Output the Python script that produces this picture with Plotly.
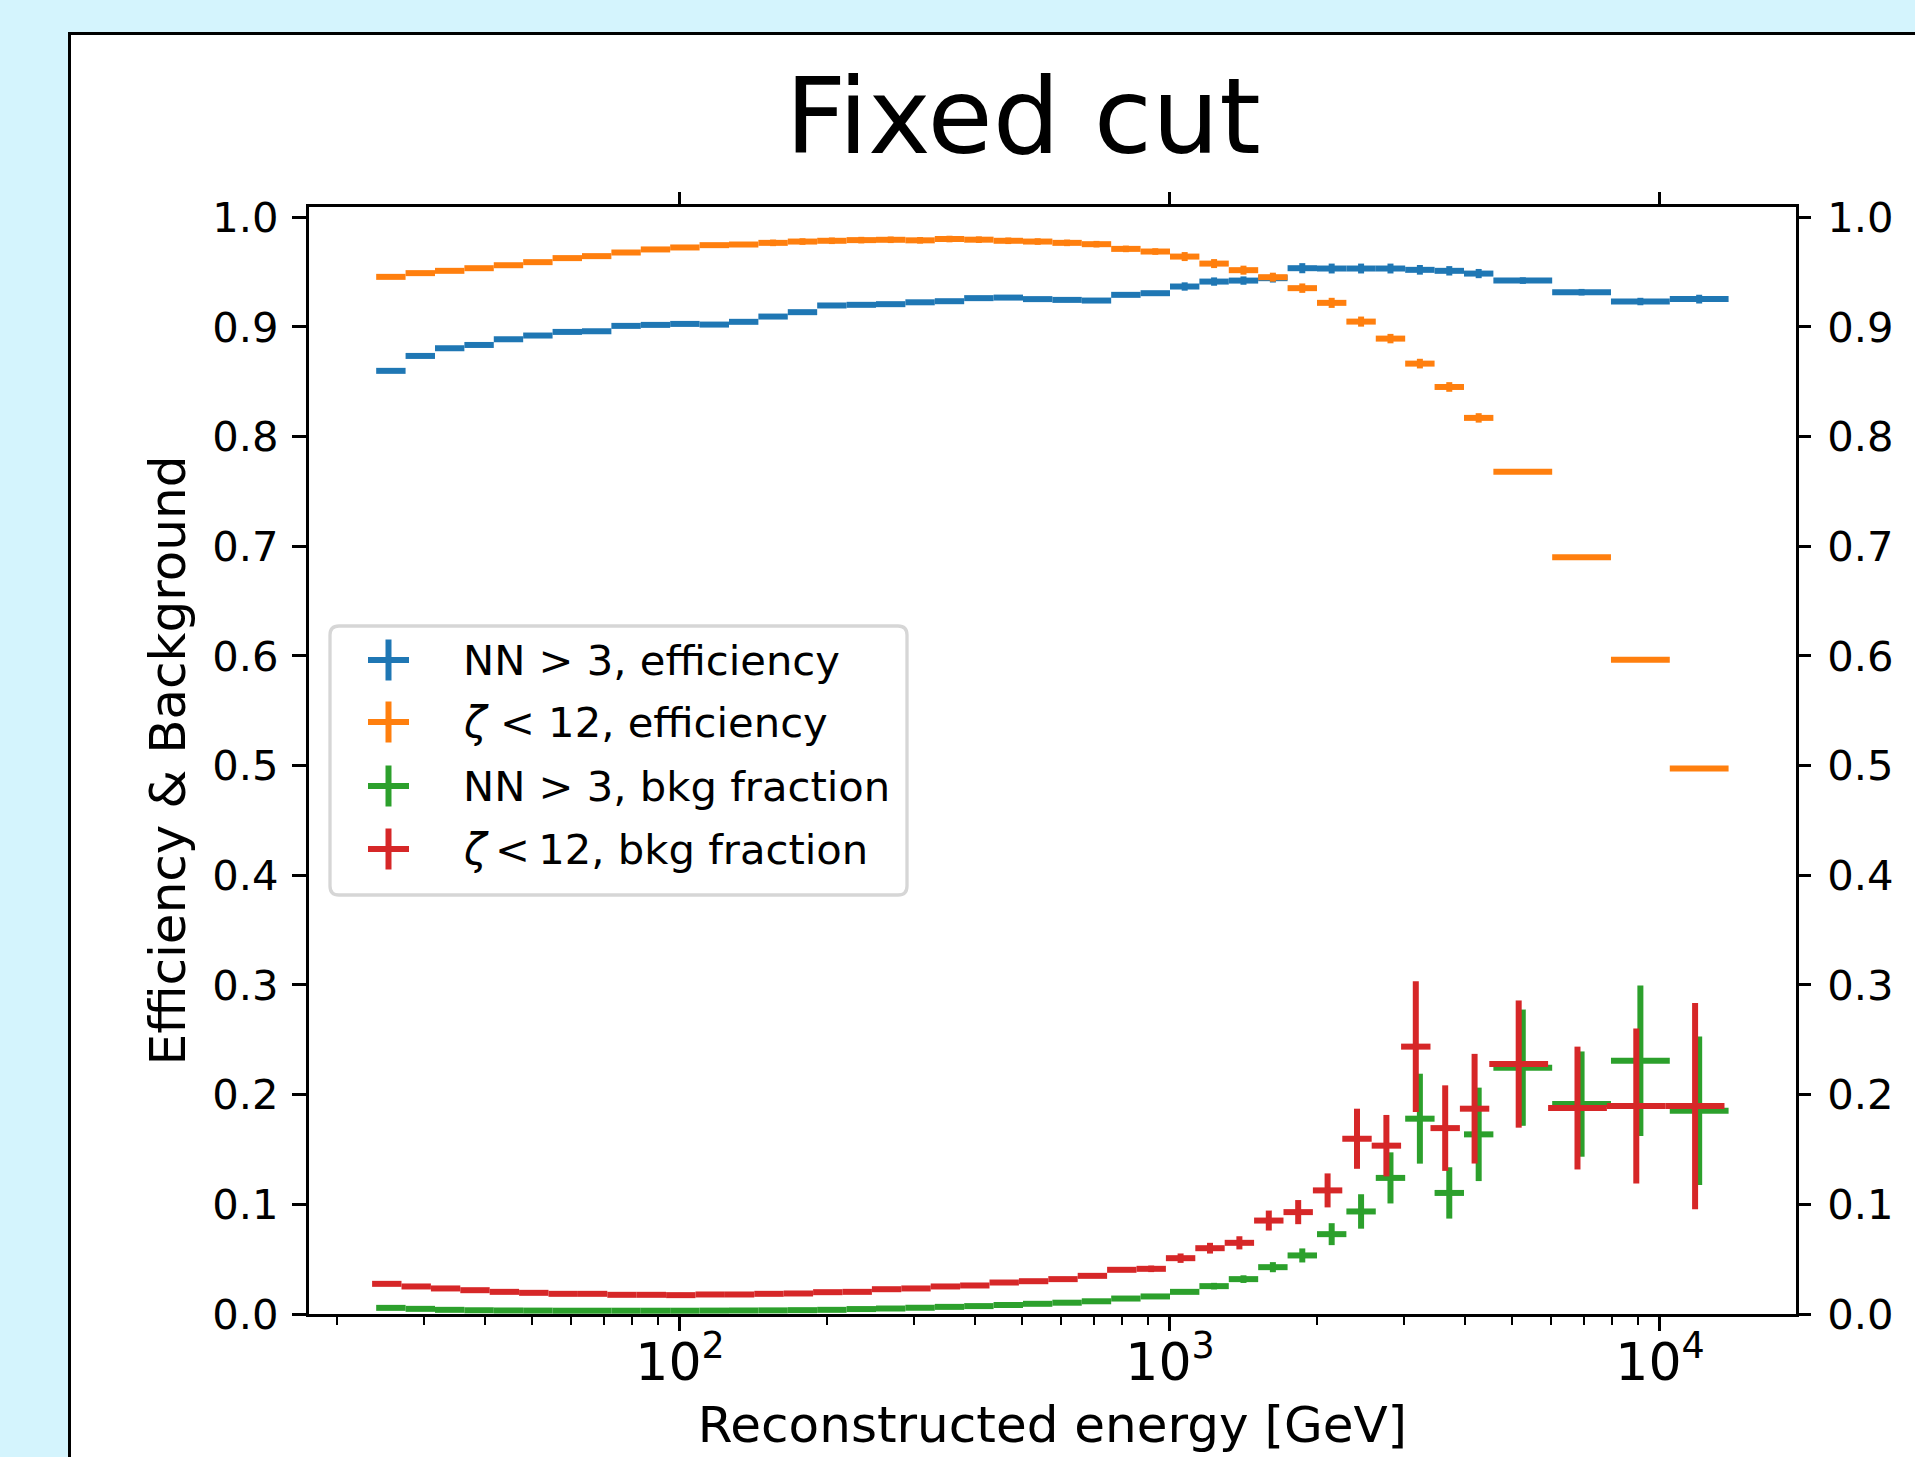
import plotly.graph_objects as go

# ---------------- data ----------------
# log10 of bin edges in GeV
edges_log10 = [1.38, 1.44, 1.50, 1.56, 1.62, 1.68, 1.74, 1.80, 1.86, 1.92, 1.98,
               2.04, 2.10, 2.16, 2.22, 2.28, 2.34, 2.40, 2.46, 2.52, 2.58, 2.64,
               2.70, 2.76, 2.82, 2.88, 2.94, 3.00, 3.06, 3.12, 3.18, 3.24, 3.30,
               3.36, 3.42, 3.48, 3.54, 3.60, 3.66, 3.78, 3.90, 4.02, 4.14]

nn_eff = [0.8600, 0.8736, 0.8806, 0.8836, 0.8888, 0.8922, 0.8955, 0.8961, 0.9010, 0.9019,
          0.9028, 0.9022, 0.9047, 0.9095, 0.9135, 0.9196, 0.9202, 0.9208, 0.9225, 0.9235,
          0.9263, 0.9268, 0.9254, 0.9247, 0.9241, 0.9293, 0.9308, 0.9369, 0.9414, 0.9423,
          0.9445, 0.9536, 0.9533, 0.9533, 0.9533, 0.9521, 0.9512, 0.9487, 0.9423, 0.9317,
          0.9232, 0.9254]
nn_eff_err = [0.0015] * 20 + [0.002] * 7 + [0.0038, 0.0038, 0.0038, 0.0040,
              0.0046, 0.0045, 0.0045, 0.0045, 0.0044, 0.0043, 0.0042,
              0.0030, 0.0030, 0.0034, 0.0040]

zeta_eff = [0.9457, 0.9491, 0.9512, 0.9536, 0.9563, 0.9591, 0.9628, 0.9646, 0.9679, 0.9707,
            0.9725, 0.9746, 0.9752, 0.9767, 0.9779, 0.9786, 0.9792, 0.9795, 0.9790, 0.9802,
            0.9796, 0.9786, 0.9779, 0.9767, 0.9755, 0.9712, 0.9688, 0.9642, 0.9578, 0.9518,
            0.9454, 0.9354, 0.9220, 0.9049, 0.8894, 0.8666, 0.8453, 0.8171, 0.7681, 0.6900,
            0.5965, 0.4974]
zeta_eff_err = [0.0015] * 9 + [0.002] * 4 + [0.003] * 14 + [0.0041, 0.0041, 0.0041, 0.0041,
                0.0043, 0.0046, 0.0046, 0.0043, 0.0044, 0.0044, 0.0043,
                0.0020, 0.0020, 0.0020, 0.0020]

nn_bkg = [0.0056, 0.0047, 0.0038, 0.0034, 0.0032, 0.0031, 0.0030, 0.0030, 0.0030, 0.0030,
          0.0030, 0.0031, 0.0032, 0.0033, 0.0035, 0.0038, 0.0045, 0.0050, 0.0057, 0.0065,
          0.0072, 0.0082, 0.0093, 0.0103, 0.0116, 0.0141, 0.0160, 0.0202, 0.0254, 0.0318,
          0.0427, 0.0534, 0.0728, 0.0935, 0.1241, 0.1781, 0.1104, 0.1638, 0.2246, 0.1914,
          0.2310, 0.1854]
nn_bkg_err = [0.002] * 28 + [0.003, 0.0035, 0.0046, 0.0064, 0.0100, 0.0157, 0.0233,
              0.0410, 0.0234, 0.0426, 0.0530, 0.0480, 0.0686, 0.0677]

zeta_bkg = [0.0275, 0.0251, 0.0233, 0.0217, 0.0202, 0.0193, 0.0184, 0.0184, 0.0175, 0.0175,
            0.0172, 0.0178, 0.0178, 0.0184, 0.0187, 0.0199, 0.0202, 0.0226, 0.0233, 0.0251,
            0.0260, 0.0287, 0.0299, 0.0318, 0.0348, 0.0403, 0.0412, 0.0509, 0.0600, 0.0649,
            0.0852, 0.0929, 0.1127, 0.1598, 0.1535, 0.2438, 0.1695, 0.1872, 0.2279, 0.1878,
            0.1896, 0.1896]
zeta_bkg_err = [0.002] * 26 + [0.003, 0.0043, 0.0049, 0.0060, 0.0091, 0.0110, 0.0155,
                0.0274, 0.0280, 0.0596, 0.0390, 0.0500, 0.0580, 0.0560, 0.0707, 0.0940]

labels = ["NN &gt; 3, efficiency",
          "<i>ζ</i> &lt; 12, efficiency",
          "NN &gt; 3, bkg fraction",
          "<i>ζ</i>\u2009&lt;\u200912, bkg fraction"]
colors = ["#1f77b4", "#ff7f0e", "#2ca02c", "#d62728"]
x_offset_factor = [1.0, 1.0, 1.0, 0.981]   # the last series is drawn slightly shifted

# ---------------- geometry ----------------
W, H = 1915, 1457
ML, MR, MT, MB = 309, 119, 207, 143
PW, PH = W - ML - MR, H - MT - MB
FONT = "DejaVu Sans"


def px2x(px):
    return (px - ML) / PW


def px2y(py):
    return (H - MB - py) / PH


lo = [10 ** e for e in edges_log10[:-1]]
hi = [10 ** e for e in edges_log10[1:]]
centers = [10 ** ((a + b) / 2) for a, b in zip(edges_log10[:-1], edges_log10[1:])]

fig = go.Figure()
series = [nn_eff, zeta_eff, nn_bkg, zeta_bkg]
errors = [nn_eff_err, zeta_eff_err, nn_bkg_err, zeta_bkg_err]
for vals, errs, col, f, lab in zip(series, errors, colors, x_offset_factor, labels):
    xs = [c * f for c in centers]
    minus = [x - l * f for x, l in zip(xs, lo)]
    plus = [h * f - x for x, h in zip(xs, hi)]
    fig.add_trace(go.Scatter(
        x=xs, y=vals, mode="markers", name=lab,
        marker=dict(size=0, color=col, opacity=0),
        error_x=dict(type="data", symmetric=False, array=plus, arrayminus=minus,
                     thickness=6, width=0, color=col),
        error_y=dict(type="data", array=errs, thickness=6, width=0, color=col),
        showlegend=False, hoverinfo="x+y",
    ))

# invisible trace to carry the mirrored top / right axes
fig.add_trace(go.Scatter(x=centers, y=nn_eff, xaxis="x2", yaxis="y2", mode="markers",
                         marker=dict(size=0, opacity=0), showlegend=False, hoverinfo="skip"))

xr = [1.2429, 4.2776]
yr = [0.0, 1.0094]
tickfont = dict(family=FONT, size=41.7, color="black")

fig.update_layout(
    width=W, height=H,
    margin=dict(l=ML, r=MR, t=MT, b=MB, pad=0, autoexpand=False),
    paper_bgcolor="#d4f4fd",
    plot_bgcolor="white",
    font=dict(family=FONT, color="black"),
    showlegend=False,
    title=dict(text="Fixed cut", font=dict(family=FONT, size=106, color="black"),
               xref="container", x=1023 / W, xanchor="center",
               yref="container", y=1 - 116 / H, yanchor="middle"),
    xaxis=dict(type="log", range=xr, showline=True, linecolor="black", linewidth=3.3,
               mirror=True, ticks="outside", ticklen=14, tickwidth=3.3, tickcolor="black",
               dtick=1, exponentformat="power", showexponent="all", tickfont=tickfont,
               ticklabelstandoff=-12, showgrid=False, zeroline=False, automargin=False,
               minor=dict(ticks="outside", ticklen=8, tickwidth=2.4, tickcolor="black",
                          dtick="D1", showgrid=False),
               title=dict(text="Reconstructed energy [GeV]",
                          font=dict(family=FONT, size=50, color="black"), standoff=17)),
    yaxis=dict(range=yr, showline=True, linecolor="black", linewidth=3.3, mirror=True,
               ticks="outside", ticklen=14, tickwidth=3.3, tickcolor="black",
               dtick=0.1, tick0=0, tickformat=".1f", tickfont=tickfont,
               ticklabelstandoff=5, showgrid=False, zeroline=False, automargin=False,
               title=dict(text="Efficiency &amp; Background",
                          font=dict(family=FONT, size=50, color="black"), standoff=11)),
    xaxis2=dict(type="log", range=xr, overlaying="x", side="top", anchor="y2",
                ticks="outside", ticklen=14, tickwidth=3.3, tickcolor="black", dtick=1,
                showticklabels=False, showline=False, showgrid=False, zeroline=False,
                automargin=False),
    yaxis2=dict(range=yr, overlaying="y", side="right", anchor="x2",
                ticks="outside", ticklen=14, tickwidth=3.3, tickcolor="black",
                dtick=0.1, tick0=0, tickformat=".1f", tickfont=tickfont,
                ticklabelstandoff=8, showline=False, showgrid=False, zeroline=False,
                automargin=False),
)

shapes = []
# figure frame (white page with black border on the light-blue background)
shapes.append(dict(type="rect", xref="paper", yref="paper", layer="below",
                   x0=px2x(69.5), x1=px2x(2200), y0=px2y(1700), y1=px2y(33.5),
                   fillcolor="white", line=dict(color="black", width=3)))

# legend box with rounded corners
bx0, bx1, by0, by1, r = 330, 907, 626, 895, 9
rx, ry = r / PW, r / PH
X0, X1, Y0, Y1 = px2x(bx0), px2x(bx1), px2y(by1), px2y(by0)
path = (f"M {X0 + rx},{Y0} L {X1 - rx},{Y0} Q {X1},{Y0} {X1},{Y0 + ry} "
        f"L {X1},{Y1 - ry} Q {X1},{Y1} {X1 - rx},{Y1} "
        f"L {X0 + rx},{Y1} Q {X0},{Y1} {X0},{Y1 - ry} "
        f"L {X0},{Y0 + ry} Q {X0},{Y0} {X0 + rx},{Y0} Z")
shapes.append(dict(type="path", xref="paper", yref="paper", layer="above", path=path,
                   fillcolor="white", line=dict(color="#d6d6d6", width=3.3)))

entry_y = [660, 722, 786, 849]
cx, half = 388.5, 20.5
annotations = []
for yy, col, lab in zip(entry_y, colors, labels):
    shapes.append(dict(type="line", xref="paper", yref="paper", layer="above",
                       x0=px2x(cx - half), x1=px2x(cx + half), y0=px2y(yy), y1=px2y(yy),
                       line=dict(color=col, width=6)))
    shapes.append(dict(type="line", xref="paper", yref="paper", layer="above",
                       x0=px2x(cx), x1=px2x(cx), y0=px2y(yy - half), y1=px2y(yy + half),
                       line=dict(color=col, width=6)))
    annotations.append(dict(text=lab, xref="paper", yref="paper", x=px2x(461), y=px2y(yy),
                            xanchor="left", yanchor="middle", showarrow=False,
                            font=dict(family=FONT, size=41.7, color="black")))

fig.update_layout(shapes=shapes, annotations=annotations)
fig.write_html("out.html")
